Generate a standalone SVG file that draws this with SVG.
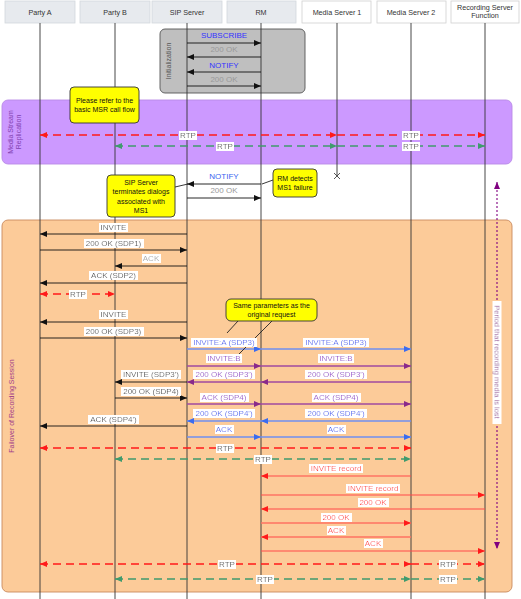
<svg xmlns="http://www.w3.org/2000/svg" width="521" height="599" viewBox="0 0 521 599">
<style>
text{font-family:"Liberation Sans",Arial,sans-serif;}
.hd{font-size:7.2px;fill:#333;text-anchor:middle;}
.hbg{fill:#e7eaee;stroke:#d3d7dc;stroke-width:0.8;}
.hbw{fill:#fff;stroke:#d0d0d0;stroke-width:0.8;}
.life{stroke:#333;stroke-width:0.9;}
.lb{font-size:8px;text-anchor:middle;}
.bg{filter:url(#wbg);}
.k{fill:#111;}
.gr{fill:#999;}
.bl{fill:#3333ff;}
.bl2{fill:#3a5ff0;}
.pu{fill:#9933cc;}
.rd{fill:#ff3333;}
.mk{stroke:#111;stroke-width:0.9;fill:none;}
.mb{stroke:#6f8ff0;stroke-width:1.3;fill:none;}
.mp{stroke:#a04aa0;stroke-width:1.3;fill:none;}
.mr{stroke:#ff4a4a;stroke-width:1.1;fill:none;}
.mr2{stroke:#ff7262;stroke-width:1.6;fill:none;}
.rtpr{stroke:#ff1a1a;stroke-width:1.4;stroke-dasharray:8,5;fill:none;}
.rtpg{stroke:#3f9b6e;stroke-width:1.4;stroke-dasharray:8,5;fill:none;}
.call{fill:#ffff00;stroke:#333;stroke-width:0.9;}
.ct{font-size:7px;fill:#111;text-anchor:middle;}
.cl{stroke:#222;stroke-width:0.9;}
</style>
<defs>
<filter id="wbg" x="-0.03" y="0" width="1.06" height="1"><feFlood flood-color="#ffffff" result="b"/><feMerge><feMergeNode in="b"/><feMergeNode in="SourceGraphic"/></feMerge></filter>
<marker id="ak" markerUnits="userSpaceOnUse" markerWidth="7" markerHeight="6" refX="7" refY="3" orient="auto-start-reverse"><path d="M0,0L7,3L0,6z" fill="#111"/></marker>
<marker id="ab" markerUnits="userSpaceOnUse" markerWidth="7" markerHeight="6" refX="7" refY="3" orient="auto-start-reverse"><path d="M0,0L7,3L0,6z" fill="#3a6cf0"/></marker>
<marker id="ap" markerUnits="userSpaceOnUse" markerWidth="7" markerHeight="6" refX="7" refY="3" orient="auto-start-reverse"><path d="M0,0L7,3L0,6z" fill="#8a2a8a"/></marker>
<marker id="ar" markerUnits="userSpaceOnUse" markerWidth="7" markerHeight="6" refX="7" refY="3" orient="auto-start-reverse"><path d="M0,0L7,3L0,6z" fill="#ff1a1a"/></marker>
<marker id="ag" markerUnits="userSpaceOnUse" markerWidth="7" markerHeight="6" refX="7" refY="3" orient="auto-start-reverse"><path d="M0,0L7,3L0,6z" fill="#3f9b6e"/></marker>
<marker id="av" markerUnits="userSpaceOnUse" markerWidth="7" markerHeight="6" refX="7" refY="3" orient="auto-start-reverse"><path d="M0,0L7,3L0,6z" fill="#800080"/></marker>
</defs>
<rect width="521" height="599" fill="#fff"/>

<!-- regions -->
<g id="init-box">
<rect x="160" y="29" width="145" height="64" rx="5" fill="#bfbfbf" stroke="#555" stroke-width="0.9"/>
<text x="0" y="0" transform="translate(171,61) rotate(-90)" font-size="7" fill="#555" text-anchor="middle">Initialization</text>
</g>
<g id="msr-box">
<rect x="2" y="100" width="510" height="64" rx="6" fill="#cc99ff" stroke="#b98ae6" stroke-width="0.9"/>
<text transform="translate(13,132) rotate(-90)" font-size="7" fill="#8040b0" text-anchor="middle">Media Stream</text>
<text transform="translate(21,132) rotate(-90)" font-size="7" fill="#8040b0" text-anchor="middle">Replication</text>
</g>
<g id="failover-box">
<rect x="2" y="220" width="510" height="372" rx="6" fill="#fccb99" stroke="#c98a5e" stroke-width="0.9"/>
<text transform="translate(14,406) rotate(-90)" font-size="7" fill="#a03a8a" text-anchor="middle">Failover of Recording Session</text>
</g>

<!-- header -->
<g id="party-a"><rect class="hbg" x="5" y="1" width="70" height="22"/><text class="hd" x="40" y="14.5">Party A</text><line class="life" x1="40" y1="23" x2="40" y2="599"/></g>
<g id="party-b"><rect class="hbg" x="80" y="1" width="70" height="22"/><text class="hd" x="115" y="14.5">Party B</text><line class="life" x1="115" y1="23" x2="115" y2="599"/></g>
<g id="sip-server"><rect class="hbg" x="152" y="1" width="70" height="22"/><text class="hd" x="187" y="14.5">SIP Server</text><line class="life" x1="187" y1="23" x2="187" y2="599"/></g>
<g id="rm"><rect class="hbg" x="227" y="1" width="69" height="22"/><text class="hd" x="261" y="14.5">RM</text><line class="life" x1="261" y1="23" x2="261" y2="599"/></g>
<g id="media-server-1"><rect class="hbw" x="302" y="1" width="69" height="22"/><text class="hd" x="337" y="14.5">Media Server 1</text><line class="life" x1="337" y1="23" x2="337" y2="176"/>
<path d="M334,173L340,179M340,173L334,179" stroke="#444" stroke-width="0.9"/></g>
<g id="media-server-2"><rect class="hbw" x="377" y="1" width="69" height="22"/><text class="hd" x="411" y="14.5">Media Server 2</text><line class="life" x1="411" y1="23" x2="411" y2="599"/></g>
<g id="recording-server"><rect class="hbw" x="451" y="1" width="68" height="22"/><text class="hd" x="485" y="9.5">Recording Server</text><text class="hd" x="485" y="18">Function</text><line class="life" x1="485" y1="23" x2="485" y2="599"/></g>

<!-- connectors -->
<g id="connectors">
<line class="mk" x1="187" y1="43" x2="261" y2="43" marker-end="url(#ak)"/>
<line class="mk" x1="261" y1="57" x2="187" y2="57" marker-end="url(#ak)"/>
<line class="mk" x1="261" y1="72" x2="187" y2="72" marker-end="url(#ak)"/>
<line class="mk" x1="187" y1="86" x2="261" y2="86" marker-end="url(#ak)"/>
<line class="rtpr" x1="40" y1="135" x2="337" y2="135" marker-start="url(#ar)" marker-end="url(#ar)"/>
<line class="rtpr" x1="337" y1="135" x2="485" y2="135" marker-end="url(#ar)"/>
<line class="rtpg" x1="115" y1="146" x2="337" y2="146" marker-start="url(#ag)" marker-end="url(#ag)"/>
<line class="rtpg" x1="337" y1="146" x2="485" y2="146" marker-end="url(#ag)"/>
<line class="mk" x1="261" y1="184" x2="187" y2="184" marker-end="url(#ak)"/>
<line class="mk" x1="187" y1="198" x2="261" y2="198" marker-end="url(#ak)"/>
<line x1="497" y1="182" x2="497" y2="549" stroke="#800080" stroke-width="1.1" stroke-dasharray="2,2" marker-start="url(#av)" marker-end="url(#av)"/>
<line class="mk" x1="187" y1="234" x2="40" y2="234" marker-end="url(#ak)"/>
<line class="mk" x1="40" y1="250" x2="187" y2="250" marker-end="url(#ak)"/>
<line class="mk" x1="187" y1="266" x2="115" y2="266" marker-end="url(#ak)"/>
<line class="mk" x1="187" y1="283" x2="40" y2="283" marker-end="url(#ak)"/>
<line class="rtpr" x1="40" y1="294" x2="115" y2="294" marker-start="url(#ar)" marker-end="url(#ar)"/>
<line class="mk" x1="187" y1="322" x2="40" y2="322" marker-end="url(#ak)"/>
<line class="mk" x1="40" y1="338" x2="187" y2="338" marker-end="url(#ak)"/>
<line class="mb" x1="187" y1="349" x2="261" y2="349" marker-end="url(#ab)"/>
<line class="mb" x1="261" y1="349" x2="411" y2="349" marker-end="url(#ab)"/>
<line class="mp" x1="187" y1="366" x2="261" y2="366" marker-end="url(#ap)"/>
<line class="mp" x1="261" y1="366" x2="411" y2="366" marker-end="url(#ap)"/>
<line class="mp" x1="411" y1="382" x2="261" y2="382" marker-end="url(#ap)"/>
<line class="mp" x1="261" y1="382" x2="187" y2="382" marker-end="url(#ap)"/>
<line class="mk" x1="187" y1="382" x2="115" y2="382" marker-end="url(#ak)"/>
<line class="mk" x1="115" y1="398" x2="187" y2="398" marker-end="url(#ak)"/>
<line class="mp" x1="187" y1="404" x2="261" y2="404" marker-end="url(#ap)"/>
<line class="mp" x1="261" y1="404" x2="411" y2="404" marker-end="url(#ap)"/>
<line class="mb" x1="411" y1="421" x2="261" y2="421" marker-end="url(#ab)"/>
<line class="mb" x1="261" y1="421" x2="187" y2="421" marker-end="url(#ab)"/>
<line class="mk" x1="187" y1="426" x2="40" y2="426" marker-end="url(#ak)"/>
<line class="mb" x1="187" y1="437" x2="261" y2="437" marker-end="url(#ab)"/>
<line class="mb" x1="261" y1="437" x2="411" y2="437" marker-end="url(#ab)"/>
<line class="rtpr" x1="40" y1="448" x2="411" y2="448" marker-start="url(#ar)" marker-end="url(#ar)"/>
<line class="rtpg" x1="115" y1="459" x2="411" y2="459" marker-start="url(#ag)" marker-end="url(#ag)"/>
<line class="mr" x1="411" y1="476" x2="261" y2="476" marker-end="url(#ar)"/>
<line class="mr" x1="261" y1="495" x2="485" y2="495" marker-end="url(#ar)"/>
<line class="mr" x1="485" y1="509" x2="261" y2="509" marker-end="url(#ar)"/>
<line class="mr2" x1="261" y1="523" x2="411" y2="523" marker-end="url(#ar)"/>
<line class="mr2" x1="411" y1="537" x2="261" y2="537" marker-end="url(#ar)"/>
<line class="mr" x1="261" y1="551" x2="485" y2="551" marker-end="url(#ar)"/>
<line class="rtpr" x1="40" y1="564" x2="411" y2="564" marker-start="url(#ar)" marker-end="url(#ar)"/>
<line class="rtpr" x1="411" y1="564" x2="485" y2="564" marker-end="url(#ar)"/>
<line class="rtpg" x1="115" y1="579" x2="411" y2="579" marker-start="url(#ag)" marker-end="url(#ag)"/>
<line class="rtpg" x1="411" y1="579" x2="485" y2="579" marker-end="url(#ag)"/>
<line class="cl" x1="273" y1="180" x2="262" y2="184"/>
<line class="cl" x1="175" y1="187" x2="188" y2="184"/>
<line class="cl" x1="238" y1="321" x2="227" y2="333"/>
<line class="cl" x1="272" y1="321" x2="238" y2="355"/>
</g>

<!-- labels -->
<g id="labels">
<text class="lb bl" x="224" y="38">SUBSCRIBE</text>
<text class="lb gr" x="224" y="52">200 OK</text>
<text class="lb bl" x="224" y="68">NOTIFY</text>
<text class="lb gr" x="224" y="82">200 OK</text>
<text class="lb k bg" x="188" y="138">RTP</text>
<text class="lb k bg" x="411" y="138">RTP</text>
<text class="lb k bg" x="225" y="149">RTP</text>
<text class="lb k bg" x="411" y="149">RTP</text>
<text class="lb bl2" x="224" y="179">NOTIFY</text>
<text class="lb gr" x="224" y="193">200 OK</text>
<text class="lb k bg" x="113.5" y="230">INVITE</text>
<text class="lb k bg" x="113.5" y="246">200 OK (SDP1)</text>
<text class="lb bg" x="151" y="261" fill="#aaa">ACK</text>
<text class="lb k bg" x="113.5" y="278">ACK (SDP2)</text>
<text class="lb k bg" x="78" y="297">RTP</text>
<text class="lb k bg" x="113.5" y="317">INVITE</text>
<text class="lb k bg" x="113.5" y="334">200 OK (SDP3)</text>
<text class="lb bl2 bg" x="224" y="345">INVITE:A (SDP3)</text>
<text class="lb bl2 bg" x="336" y="345">INVITE:A (SDP3)</text>
<text class="lb pu bg" x="224" y="361">INVITE:B</text>
<text class="lb pu bg" x="336" y="361">INVITE:B</text>
<text class="lb pu bg" x="224" y="377">200 OK (SDP3')</text>
<text class="lb pu bg" x="336" y="377">200 OK (SDP3')</text>
<text class="lb k bg" x="151" y="377">INVITE (SDP3')</text>
<text class="lb k bg" x="151" y="394">200 OK (SDP4)</text>
<text class="lb pu bg" x="224" y="400">ACK (SDP4)</text>
<text class="lb pu bg" x="336" y="400">ACK (SDP4)</text>
<text class="lb bl2 bg" x="224" y="416">200 OK (SDP4')</text>
<text class="lb bl2 bg" x="336" y="416">200 OK (SDP4')</text>
<text class="lb k bg" x="113.5" y="422">ACK (SDP4')</text>
<text class="lb bl2 bg" x="224" y="432">ACK</text>
<text class="lb bl2 bg" x="336" y="432">ACK</text>
<text class="lb k bg" x="225" y="451">RTP</text>
<text class="lb k bg" x="263" y="462">RTP</text>
<text class="lb rd bg" x="336" y="471">INVITE record</text>
<text class="lb rd bg" x="373" y="491">INVITE record</text>
<text class="lb rd bg" x="373" y="505">200 OK</text>
<text class="lb rd bg" x="336" y="520">200 OK</text>
<text class="lb rd bg" x="336" y="533">ACK</text>
<text class="lb rd bg" x="373" y="546">ACK</text>
<text class="lb k bg" x="227" y="567">RTP</text>
<text class="lb k bg" x="448" y="567">RTP</text>
<text class="lb k bg" x="265" y="582">RTP</text>
<text class="lb k bg" x="448" y="582">RTP</text>
<text class="bg" transform="translate(494.5,362) rotate(90)" font-size="7.5" fill="#993399" text-anchor="middle">Period that recording media is lost</text>
</g>

<!-- callouts -->
<g id="callout-msr"><rect class="call" x="70" y="87" width="69" height="36" rx="4"/><text class="ct" x="104.5" y="102.5">Please refer to the</text><text class="ct" x="104.5" y="112">basic MSR call flow</text></g>
<g id="callout-sip"><rect class="call" x="107" y="175" width="68" height="42" rx="4"/><text class="ct" x="141" y="184.5">SIP Server</text><text class="ct" x="141" y="194">terminates dialogs</text><text class="ct" x="141" y="203.5">associated with</text><text class="ct" x="141" y="213">MS1</text></g>
<g id="callout-rm"><rect class="call" x="273" y="169" width="44" height="28" rx="4"/><text class="ct" x="295" y="181">RM detects</text><text class="ct" x="295" y="190">MS1 failure</text></g>
<g id="callout-same"><rect class="call" x="226" y="299" width="91" height="22" rx="5"/><text class="ct" x="271.5" y="307.5">Same parameters as the</text><text class="ct" x="271.5" y="316.5">original request</text></g>
</svg>
